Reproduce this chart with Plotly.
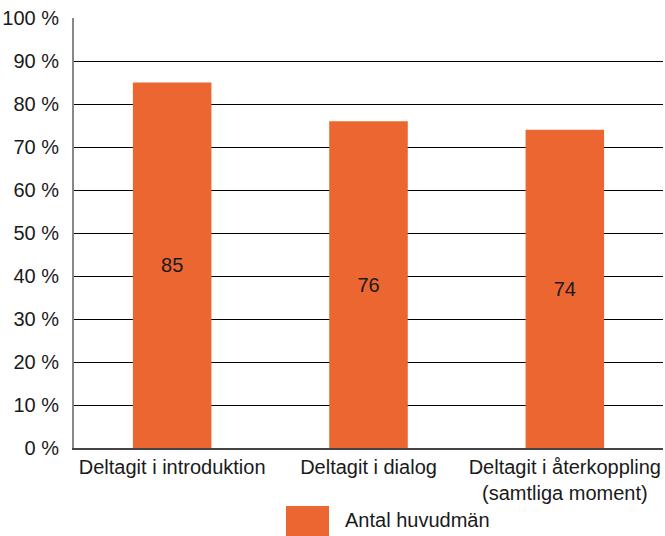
import plotly.graph_objects as go

categories = ["Deltagit i introduktion", "Deltagit i dialog", "Deltagit i återkoppling<br>(samtliga moment)"]
values = [85, 76, 74]
series_name = "Antal huvudmän"
y_ticks = list(range(0, 101, 10))
y_tick_labels = [f"{v} %" for v in y_ticks]

bar_color = "#EC6631"
font = dict(family="Liberation Sans, Arial, sans-serif", size=20, color="#1a1a1a")

fig = go.Figure()
fig.add_trace(go.Bar(
    x=categories, y=values, name=series_name,
    marker=dict(color=bar_color, line=dict(width=0)),
    width=0.4,
    text=[str(v) for v in values], textposition="inside",
    insidetextanchor="middle",
    textfont=dict(family=font["family"], size=20, color="#1a1a1a"),
    showlegend=False,
))

fig.update_layout(
    width=665, height=536,
    margin=dict(l=74, r=2, t=18, b=88),
    paper_bgcolor="white", plot_bgcolor="white",
    font=font,
    showlegend=False,
    bargap=0.6,
)
fig.update_yaxes(
    range=[0, 100], tickvals=y_ticks, ticktext=y_tick_labels,
    showgrid=True, gridcolor="black", gridwidth=1,
    showline=True, linecolor="#888888", linewidth=2,
    zeroline=False, ticks="", ticklabelstandoff=9,
    automargin=False,
)
fig.update_xaxes(
    showline=True, linecolor="#444444", linewidth=2,
    ticks="", tickangle=0, automargin=False,
)

# legend-style key drawn below the plot
fig.add_shape(type="rect", xref="paper", yref="paper",
              x0=(286 - 74) / 589, x1=(329 - 74) / 589,
              y0=(448 - 536) / 430, y1=(448 - 506) / 430,
              fillcolor=bar_color, line=dict(width=0))
fig.add_annotation(xref="paper", yref="paper",
                   x=(343 - 74) / 589, y=(448 - 520) / 430,
                   text=series_name, showarrow=False,
                   xanchor="left", yanchor="middle", font=font)

fig.write_html("out.html", config={"displayModeBar": False},
               post_script="document.body.style.margin='0';document.body.style.overflow='hidden';")
